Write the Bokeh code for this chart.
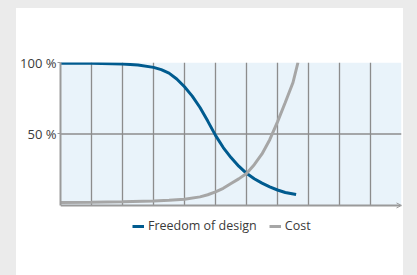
from bokeh.plotting import figure
from bokeh.models import FixedTicker, Legend, LegendItem, Arrow, OpenHead, BoxAnnotation
from bokeh.embed import file_html
from bokeh.resources import INLINE

# ---- data ----
design_x = [0, 1, 2, 2.5, 3, 3.25, 3.5, 3.75, 4, 4.25, 4.5, 4.75, 5, 5.25, 5.5, 5.75, 6, 6.25, 6.5, 6.75, 7, 7.25, 7.6]
design_y = [99.5, 99.4, 98.9, 98.2, 96.6, 95, 92.6, 88.5, 83, 76.5, 68.5, 59, 49, 40.5, 33.5, 27.5, 22.5, 18.7, 15.6, 13, 10.8, 9.1, 7.6]
cost_x = [0, 1, 2, 3, 3.5, 4, 4.5, 4.75, 5, 5.25, 5.5, 5.75, 6, 6.25, 6.5, 6.75, 7, 7.25, 7.5, 7.66]
cost_y = [2.1, 2.3, 2.6, 3.2, 3.7, 4.4, 6, 7.5, 9.5, 12, 15.4, 18.6, 22.4, 28.5, 36, 46, 58.5, 72, 86, 100]
y_ticks = [50, 100]
y_tick_labels = ["50 %", "100 %"]
x_grid = [1, 2, 3, 4, 5, 6, 7, 8, 9, 10]
y_grid = [50]
x_min, x_max = 0, 11
y_min, y_max = 0, 100
series_names = ["Freedom of design", "Cost"]

BLUE = "#005b8f"
GREY = "#a6a6a6"
GRID = "#8c8c8c"
AXIS = "#9a9a9a"
TEXT = "#3a3a3a"
PANEL = "#e9f3fa"

# the frame extends below y=0 so that the legend sits inside it
p = figure(width=387, height=267, x_range=(x_min, x_max), y_range=(-49, y_max),
           output_backend="svg", toolbar_location=None,
           min_border_left=44, min_border_right=2, min_border_top=54, min_border_bottom=0)
p.background_fill_color = "white"
p.border_fill_color = "white"
p.outline_line_color = None
p.styles = {"background-color": "white"}
p.grid.visible = False
p.xaxis.visible = False

# plotting panel background
p.add_layout(BoxAnnotation(left=x_min, right=x_max, bottom=y_min, top=y_max,
                           fill_color=PANEL, fill_alpha=1, line_color=None, level="underlay"))

# grid lines
p.segment(x0=x_grid, y0=[y_min] * len(x_grid), x1=x_grid, y1=[y_max] * len(x_grid),
          line_color=GRID, line_width=1.3)
p.segment(x0=[x_min] * len(y_grid), y0=y_grid, x1=[x_max] * len(y_grid), y1=y_grid,
          line_color=GRID, line_width=1.3)

# y axis
p.yaxis.bounds = (y_min, y_max)
p.yaxis.ticker = FixedTicker(ticks=y_ticks)
p.yaxis.major_label_overrides = {t: l for t, l in zip(y_ticks, y_tick_labels)}
p.yaxis.major_label_text_font = "Open Sans"
p.yaxis.major_label_text_font_size = "13px"
p.yaxis.major_label_text_color = TEXT
p.yaxis.major_label_standoff = 1
p.yaxis.major_tick_out = 3
p.yaxis.major_tick_in = 0
p.yaxis.major_tick_line_color = AXIS
p.yaxis.minor_tick_line_color = None
p.yaxis.axis_line_color = AXIS
p.yaxis.axis_line_width = 2

# x axis line with arrow
p.add_layout(Arrow(end=OpenHead(size=5, line_color=AXIS, line_width=1),
                   x_start=x_min, y_start=y_min, x_end=x_max, y_end=y_min,
                   line_color=AXIS, line_width=2))

r1 = p.line(design_x, design_y, line_color=BLUE, line_width=3)
r2 = p.line(cost_x, cost_y, line_color=GREY, line_width=3)

legend = Legend(items=[LegendItem(label=series_names[0], renderers=[r1]),
                       LegendItem(label=series_names[1], renderers=[r2])],
                orientation="horizontal", location=(72, 41),
                glyph_width=12, glyph_height=14, label_standoff=4, spacing=12,
                padding=0, margin=0, border_line_color=None, background_fill_alpha=0,
                label_text_font="Open Sans", label_text_font_size="12.5px",
                label_text_color=TEXT)
p.add_layout(legend, "center")

html = file_html(p, INLINE)
css = ("<style>html,body{background:#ebebeb !important;overflow:hidden !important;}"
       "body{margin:0 !important;padding:8px 0 0 16px !important;box-sizing:border-box;}</style>")
html = html.replace("</head>", css + "</head>", 1)
open("out.html", "w").write(html)
